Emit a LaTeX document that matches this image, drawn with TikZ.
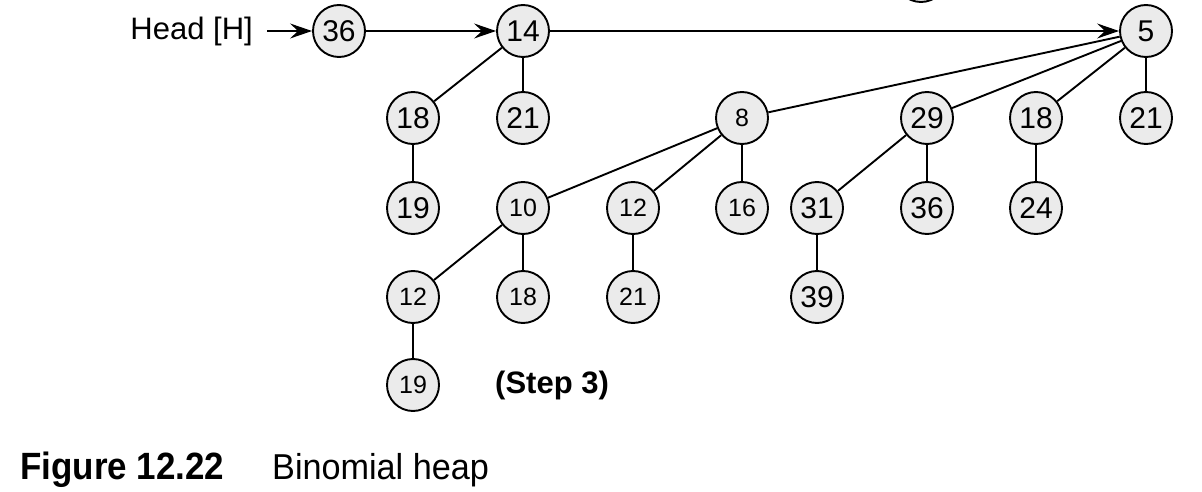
\documentclass[tikz,border=0pt]{standalone}
\usepackage{fontspec}
\setmainfont{Liberation Sans}
\usetikzlibrary{arrows.meta}
\begin{document}
\begin{tikzpicture}[x=1pt,y=-1pt,
  hn/.style={circle, draw, line width=1.9pt, fill=black!8, minimum size=52pt, inner sep=0pt, font=\fontsize{30}{30}\selectfont},
  sn/.style={hn, font=\fontsize{25}{25}\selectfont},
  ed/.style={line width=1.9pt},
  ar/.style={line width=1.9pt, -{Stealth[length=22pt,width=15pt,inset=8pt]}}]
\useasboundingbox (0,0) rectangle (1202,492);
% partial node from previous step (cut off at top)
\node[hn] (prev) at (921,-24) {};
% text
\node[anchor=east, inner sep=0pt, font=\fontsize{31}{31}\selectfont] (head) at (253,31) {Head [H]};
\coordinate (hs) at (267,31);
% roots
\node[hn] (a36) at (339,31) {36};
\node[hn] (a14) at (523,31) {14};
\node[hn] (a5) at (1146,31) {5};
% row 2
\node[hn] (b18) at (413,118) {18};
\node[hn] (b21) at (523,118) {21};
\node[sn] (b8) at (742,118) {8};
\node[hn] (b29) at (927,118) {29};
\node[hn] (b18r) at (1036,118) {18};
\node[hn] (b21r) at (1146,118) {21};
% row 3
\node[hn] (c19) at (413,208) {19};
\node[sn] (c10) at (523,208) {10};
\node[sn] (c12) at (633,208) {12};
\node[sn] (c16) at (742,208) {16};
\node[hn] (c31) at (817,208) {31};
\node[hn] (c36) at (927,208) {36};
\node[hn] (c24) at (1036,208) {24};
% row 4
\node[sn] (d12) at (413,297) {12};
\node[sn] (d18) at (523,297) {18};
\node[sn] (d21) at (633,297) {21};
\node[hn] (d39) at (817,297) {39};
% row 5
\node[sn] (e19) at (413,385) {19};
\node[anchor=west, inner sep=0pt, font=\fontsize{31}{31}\selectfont\bfseries] (step) at (495,385) {(Step 3)};
% caption
\node[anchor=base west, inner sep=0pt, font=\fontsize{38}{38}\selectfont\bfseries] (fig) at (20,479) {\scalebox{0.92}[1]{Figure 12.22}};
\node[anchor=base west, inner sep=0pt, font=\fontsize{36}{36}\selectfont] (cap) at (272,479) {\scalebox{0.95}[1]{Binomial heap}};
% arrows
\draw[ar] (hs) -- (a36);
\draw[ar] (a36) -- (a14);
\draw[ar] (a14) -- (a5);
% edges
\draw[ed] (a14) -- (b18);
\draw[ed] (a14) -- (b21);
\draw[ed] (b18) -- (c19);
\draw[ed] (a5) -- (b8);
\draw[ed] (a5) -- (b29);
\draw[ed] (a5) -- (b18r);
\draw[ed] (a5) -- (b21r);
\draw[ed] (b8) -- (c10);
\draw[ed] (b8) -- (c12);
\draw[ed] (b8) -- (c16);
\draw[ed] (b29) -- (c31);
\draw[ed] (b29) -- (c36);
\draw[ed] (b18r) -- (c24);
\draw[ed] (c10) -- (d12);
\draw[ed] (c10) -- (d18);
\draw[ed] (c12) -- (d21);
\draw[ed] (c31) -- (d39);
\draw[ed] (d12) -- (e19);
\end{tikzpicture}
\end{document}
